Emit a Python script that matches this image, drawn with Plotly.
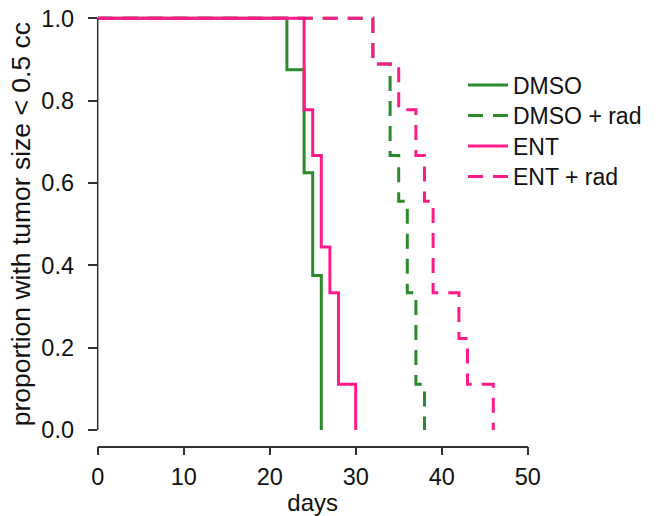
import plotly.graph_objects as go

# ---- data (Kaplan-Meier step curves) ----
dmso_days = [0, 22, 24, 25, 26]
dmso_surv = [1.0, 7/8, 5/8, 3/8, 0.0]

dmso_rad_days = [0, 32, 34, 35, 36, 37, 38]
dmso_rad_surv = [1.0, 8/9, 6/9, 5/9, 3/9, 1/9, 0.0]

ent_days = [0, 24, 25, 26, 27, 28, 30]
ent_surv = [1.0, 7/9, 6/9, 4/9, 3/9, 1/9, 0.0]

ent_rad_days = [0, 32, 35, 37, 38, 39, 42, 43, 46]
ent_rad_surv = [1.0, 8/9, 7/9, 6/9, 5/9, 3/9, 2/9, 1/9, 0.0]

x_ticks = [0, 10, 20, 30, 40, 50]
y_ticks = [0.0, 0.2, 0.4, 0.6, 0.8, 1.0]
y_tick_labels = ["0.0", "0.2", "0.4", "0.6", "0.8", "1.0"]

GREEN = "#2b8a2b"
PINK = "#ff1a8c"
DASH = "15px,10px"
LW = 3

# body margin is removed by post_script, so figure fills the window
W, H = 663, 516
def px_x(v):
    return v / W
def px_y(v):
    return 1 - v / H

x0_px, x1_px = 97.7, 527.7          # x = 0 .. 50
y0_px, y1_px = 430.0, 18.3          # y = 0 .. 1
ypad = 0.012
ppu = (y0_px - y1_px)
ybot_px = y0_px + ypad * ppu
ytop_px = y1_px - ypad * ppu
xaxis_line_px = 446.5

legend_rows_px = [85, 115.5, 146, 176.5]
legend_left_px = 463

fig = go.Figure()
series = [
    ("DMSO", dmso_days, dmso_surv, GREEN, "solid"),
    ("DMSO + rad", dmso_rad_days, dmso_rad_surv, GREEN, DASH),
    ("ENT", ent_days, ent_surv, PINK, "solid"),
    ("ENT + rad", ent_rad_days, ent_rad_surv, PINK, DASH),
]
legend_ids = ["legend", "legend2", "legend3", "legend4"]
for (name, xs, ys, col, dash), lid in zip(series, legend_ids):
    fig.add_trace(go.Scatter(
        x=xs, y=ys, mode="lines", name=name, legend=lid,
        line=dict(color=col, width=LW, dash=dash, shape="hv"),
        hoverinfo="skip",
    ))

font_family = "Liberation Sans, Arial, sans-serif"
axis_col = "#333333"
text_col = "#111111"

layout_legends = {}
for lid, row in zip(legend_ids, legend_rows_px):
    layout_legends[lid] = dict(
        x=px_x(legend_left_px), y=px_y(row), xanchor="left", yanchor="middle",
        font=dict(size=23, color=text_col, family=font_family),
        bgcolor="rgba(0,0,0,0)", itemwidth=40, borderwidth=0,
    )

fig.update_layout(
    width=W, height=H,
    margin=dict(l=0, r=0, t=0, b=0),
    paper_bgcolor="white", plot_bgcolor="white",
    font=dict(family=font_family, size=23, color=text_col),
    showlegend=True,
    **layout_legends,
    xaxis=dict(
        domain=[px_x(x0_px), px_x(x1_px)],
        range=[0, 50],
        anchor="free", position=px_y(xaxis_line_px),
        showgrid=False, zeroline=False,
        showline=True, linecolor=axis_col, linewidth=1.5,
        ticks="outside", ticklen=8, tickwidth=1.5, tickcolor=axis_col,
        tickvals=x_ticks, ticktext=[str(v) for v in x_ticks],
        tickfont=dict(size=23.5),
        ticklabelstandoff=2,
        ticklabeloverflow="allow",
        title=dict(text="days", font=dict(size=24), standoff=4),
        automargin=False,
    ),
    yaxis=dict(
        domain=[px_y(ybot_px), px_y(ytop_px)],
        range=[-ypad, 1 + ypad],
        showgrid=False, zeroline=False, showline=False,
        ticks="outside", ticklen=9, tickwidth=1.5, tickcolor=axis_col,
        tickvals=y_ticks, ticktext=y_tick_labels,
        tickfont=dict(size=23.5),
        ticklabelstandoff=9,
        ticklabeloverflow="allow",
        title=dict(text="proportion with tumor size < 0.5 cc", font=dict(size=26.5), standoff=3),
        automargin=False,
    ),
)

# y axis line spanning exactly 0..1
fig.add_shape(type="line", xref="paper", yref="y",
              x0=px_x(x0_px), x1=px_x(x0_px), y0=0, y1=1,
              line=dict(color=axis_col, width=1.5))

fig.write_html(
    "out.html",
    config={"displayModeBar": False},
    post_script="document.body.style.margin='0px';document.body.style.overflow='hidden';",
)
